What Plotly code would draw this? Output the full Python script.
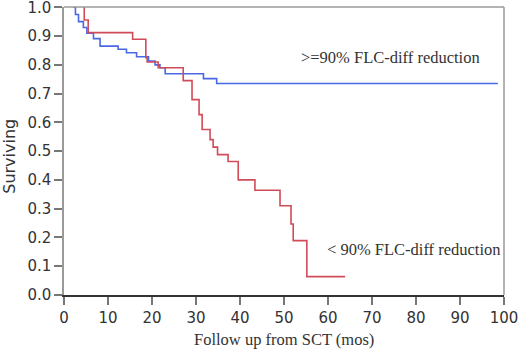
import plotly.graph_objects as go

# Kaplan-Meier step data (time in months, survival proportion)
red_time = [4.4, 4.6, 5.5, 15.6, 18.6, 18.9, 21.4, 27.1, 29.1, 30.7, 31.4, 33.2, 33.9, 34.9,
            37.3, 39.6, 43.4, 49.1, 51.6, 52.1, 55.2, 63.9]
red_surv = [1.0, 0.956, 0.912, 0.889, 0.825, 0.81, 0.79, 0.745, 0.679, 0.627, 0.575, 0.54, 0.514, 0.488,
            0.464, 0.40, 0.364, 0.31, 0.247, 0.189, 0.064, 0.064]

blue_time = [2.1, 2.6, 3.3, 4.4, 5.2, 6.7, 8.2, 12.3, 14.2, 16.5, 19.2, 20.7, 21.8, 23.0, 31.7, 34.7, 98.6]
blue_surv = [1.0, 0.975, 0.95, 0.93, 0.91, 0.891, 0.865, 0.854, 0.842, 0.828, 0.813, 0.80, 0.79, 0.769,
             0.752, 0.735, 0.735]

x_ticks = [0, 10, 20, 30, 40, 50, 60, 70, 80, 90, 100]
y_ticks = [0.0, 0.1, 0.2, 0.3, 0.4, 0.5, 0.6, 0.7, 0.8, 0.9, 1.0]

label_hi = ">=90% FLC-diff reduction"
label_lo = "< 90% FLC-diff reduction"
x_title = "Follow up from SCT (mos)"
y_title = "Surviving"

fig = go.Figure()
fig.add_trace(go.Scatter(x=blue_time, y=blue_surv, mode="lines", line_shape="hv",
                         line=dict(color="#4a68e4", width=1.6), showlegend=False))
fig.add_trace(go.Scatter(x=red_time, y=red_surv, mode="lines", line_shape="hv",
                         line=dict(color="#d24b58", width=1.6), showlegend=False))

serif = "Liberation Serif, DejaVu Serif, serif"
sans = "DejaVu Sans, Verdana, sans-serif"

fig.add_annotation(x=0.534, y=0.826, xref="paper", yref="paper", text=label_hi, showarrow=False,
                   xanchor="left", yanchor="middle", font=dict(family=serif, size=16.5, color="#333"))
fig.add_annotation(x=0.593, y=0.157, xref="paper", yref="paper", text=label_lo, showarrow=False,
                   xanchor="left", yanchor="middle", font=dict(family=serif, size=16.5, color="#333"))
fig.add_annotation(x=0.5, y=-0.156, xref="paper", yref="paper", text=x_title, showarrow=False,
                   xanchor="center", yanchor="middle", font=dict(family=serif, size=16.5, color="#333"))
fig.add_annotation(x=-0.123, y=0.483, xref="paper", yref="paper", text=y_title, showarrow=False,
                   textangle=-90, xanchor="center", yanchor="middle",
                   font=dict(family=sans, size=16, color="#333"))

# top and right frame (grey)
fig.add_shape(type="line", xref="paper", yref="paper", x0=0, x1=1, y0=1, y1=1,
              line=dict(color="#9a9a9a", width=1.5))
fig.add_shape(type="line", xref="paper", yref="paper", x0=1, x1=1, y0=0, y1=1,
              line=dict(color="#9a9a9a", width=1.5))

fig.update_layout(
    width=520, height=353,
    margin=dict(l=64, r=16, t=7, b=58),
    paper_bgcolor="white", plot_bgcolor="white",
    xaxis=dict(range=[0, 100.01], tickvals=x_ticks, ticks="outside", ticklen=8, tickcolor="#777",
               tickwidth=1.5, showline=True, linecolor="#333", linewidth=1.5, showgrid=False,
               zeroline=False, automargin=False, ticklabeloverflow="allow",
               tickfont=dict(family=sans, size=15, color="#333")),
    yaxis=dict(range=[0, 1.001], tickvals=y_ticks, tickformat=".1f", ticks="outside", ticklen=8,
               tickcolor="#777", tickwidth=1.5, showline=True, linecolor="#9a9a9a", linewidth=1.5,
               showgrid=False, zeroline=False, automargin=False, ticklabeloverflow="allow",
               tickfont=dict(family=sans, size=15, color="#333")),
)

fig.write_html("out.html", config={"displayModeBar": False},
               post_script="document.body.style.margin='0';document.body.style.overflow='hidden';")
